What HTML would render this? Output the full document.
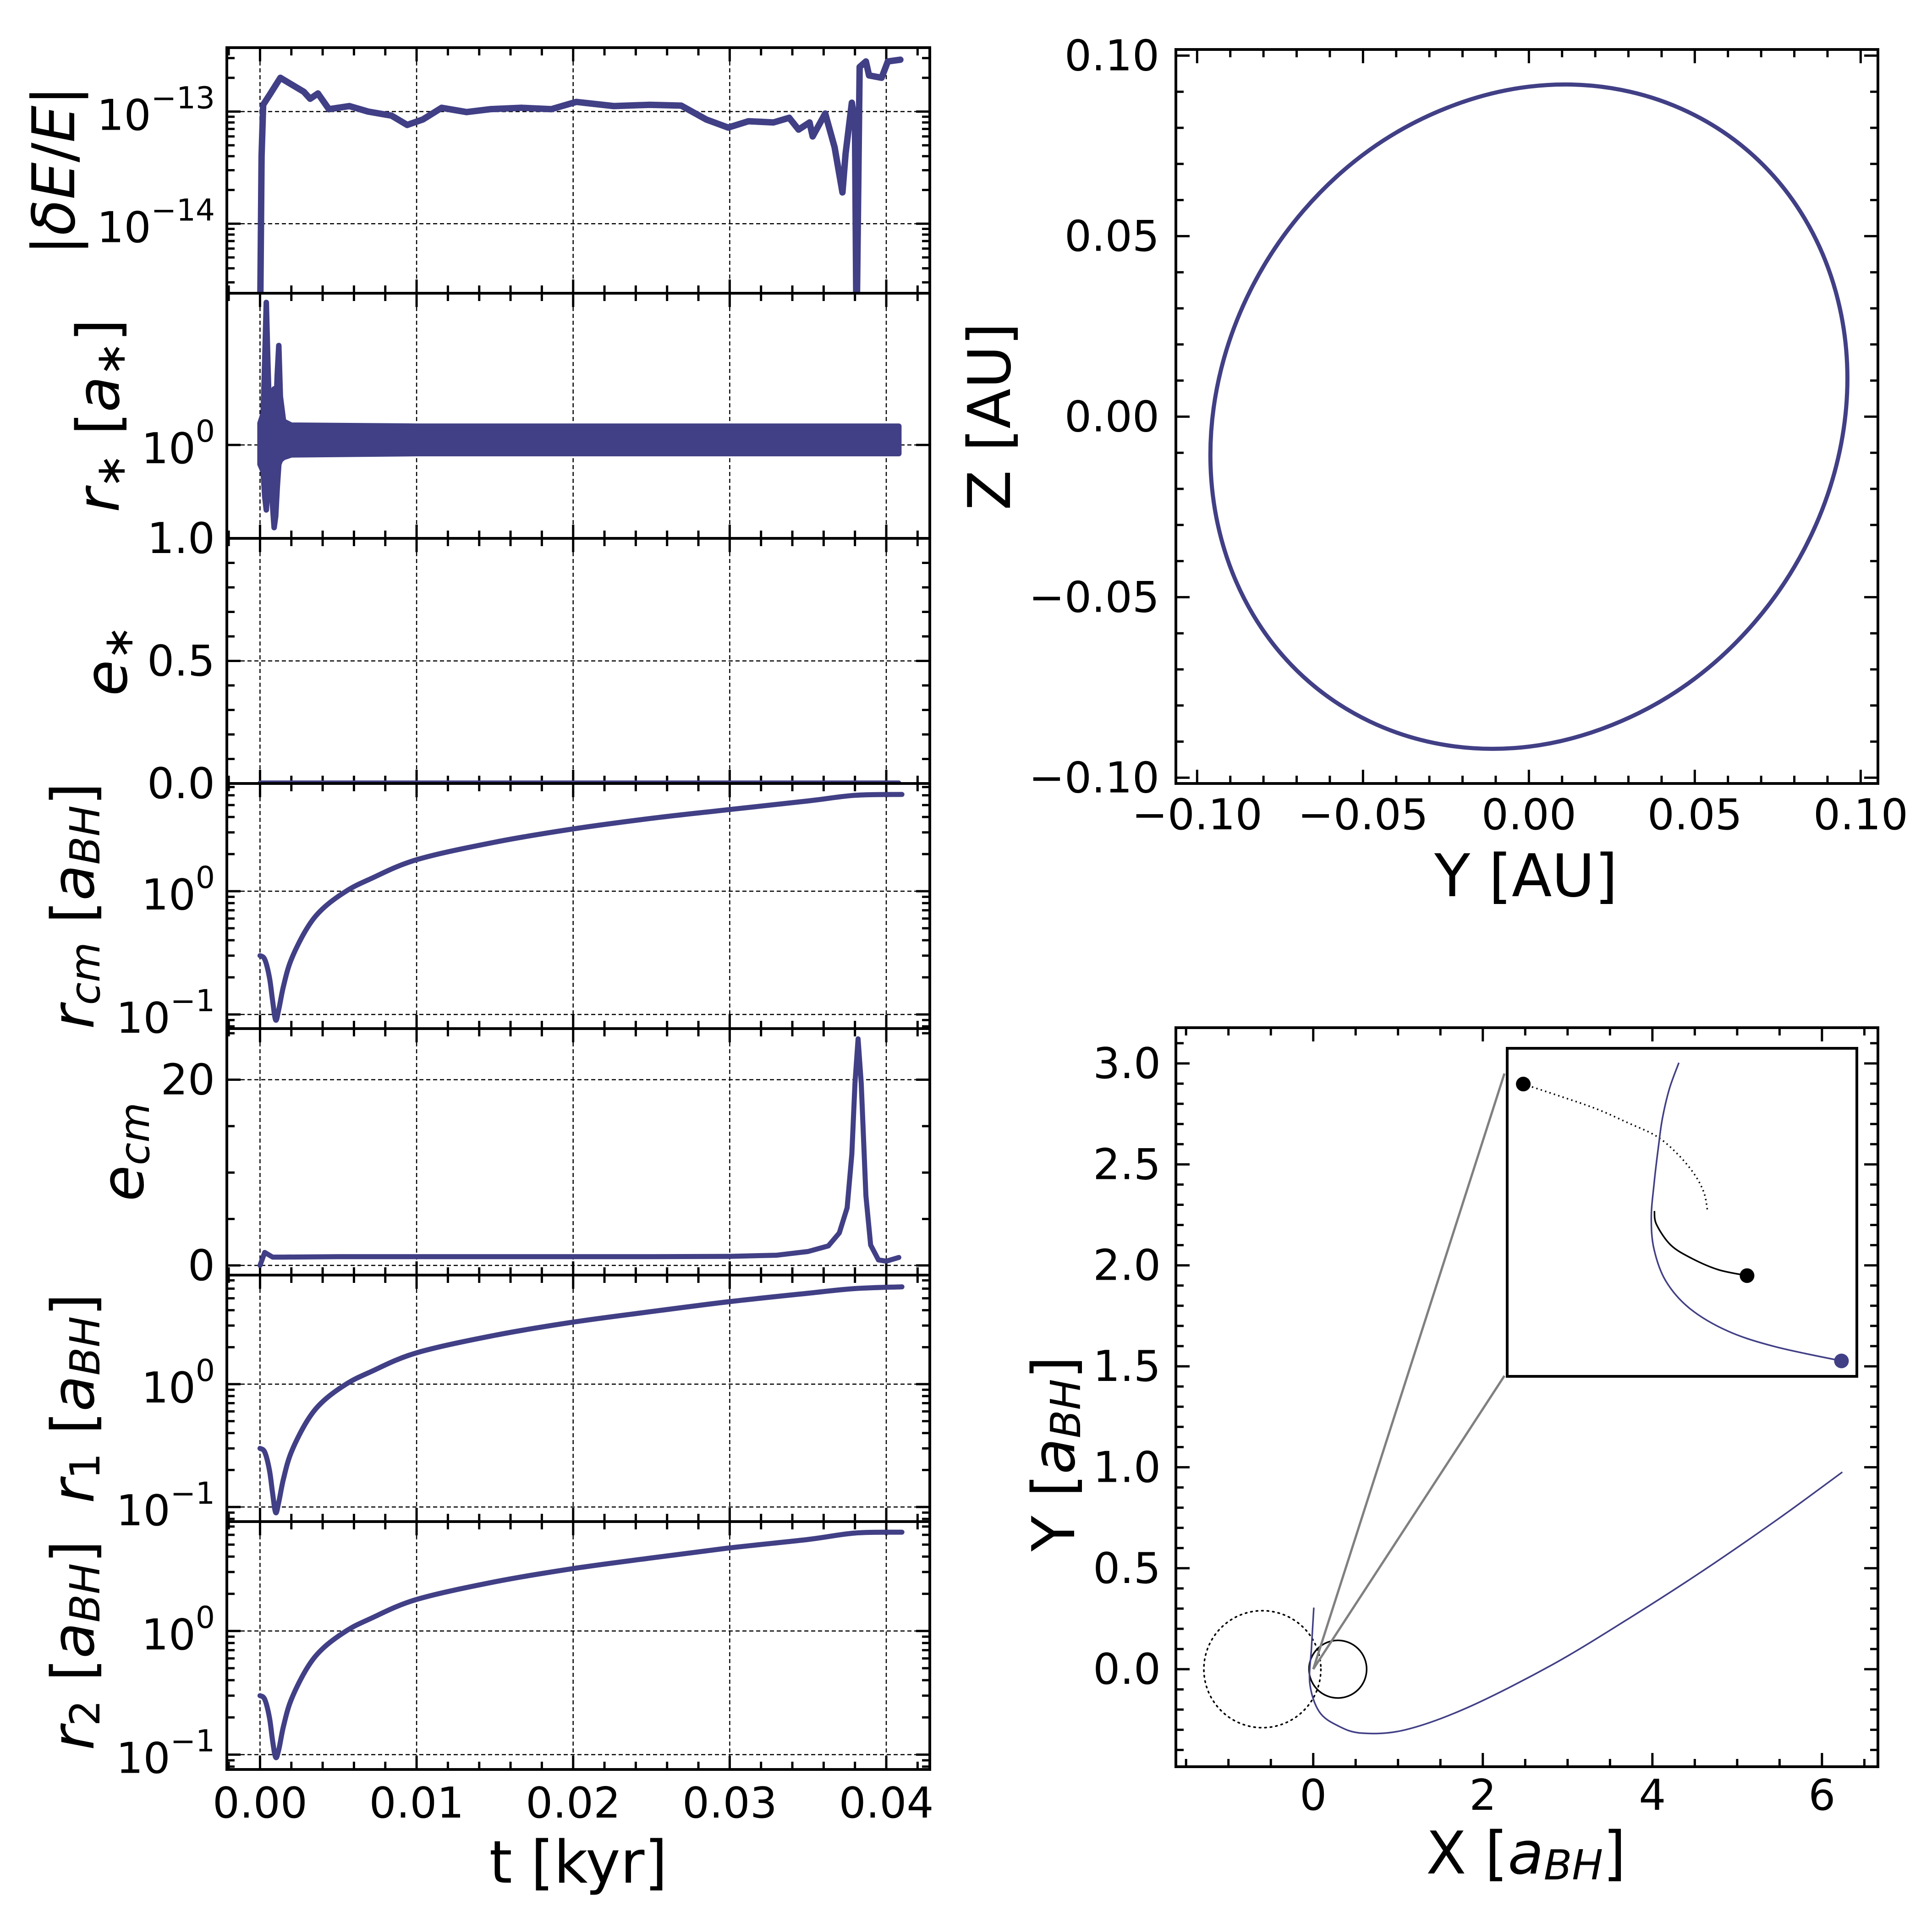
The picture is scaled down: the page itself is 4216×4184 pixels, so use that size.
<!DOCTYPE html>
<html><head><meta charset="utf-8"><style>
html,body{margin:0;padding:0;background:#fff}
svg{display:block;font-family:"DejaVu Sans","Liberation Sans",sans-serif}
</style></head><body>
<svg id="chart" xmlns="http://www.w3.org/2000/svg" width="4216" height="4184" viewBox="0 0 4216 4184">
<rect width="4216" height="4184" fill="#fff"/>
</svg>
<script>
// ---------------- data ----------------
const dE_t = [0,0.0001,0.0002,0.0006,0.0013,0.0028,0.0032,0.0037,0.0044,0.0057,0.0069,0.0084,0.0094,0.0104,0.0116,0.0132,0.0147,0.0167,0.0186,0.0202,0.0226,0.0249,0.0269,0.0285,0.0299,0.0312,0.0328,0.0338,0.0344,0.0351,0.0353,0.0361,0.0367,0.0372,0.0374,0.0378,0.0380,0.0381,0.0383,0.0387,0.0389,0.0397,0.0401,0.0409];
const dE_v = [1e-15,4e-14,1.15e-13,1.4e-13,2.0e-13,1.5e-13,1.3e-13,1.45e-13,1.05e-13,1.12e-13,1.0e-13,0.92e-13,0.76e-13,0.85e-13,1.08e-13,0.99e-13,1.05e-13,1.08e-13,1.05e-13,1.22e-13,1.12e-13,1.15e-13,1.13e-13,0.85e-13,0.72e-13,0.82e-13,0.80e-13,0.88e-13,0.69e-13,0.80e-13,0.60e-13,0.96e-13,0.48e-13,0.19e-13,0.42e-13,1.2e-13,0.8e-13,1e-15,2.5e-13,2.8e-13,2.1e-13,2.0e-13,2.8e-13,2.9e-13];
const rs_t = [0,0.0002,0.0003,0.0004,0.0005,0.0006,0.0007,0.0008,0.0009,0.0010,0.0011,0.0012,0.0013,0.0015,0.0020,0.0100,0.0300,0.0408];
const rs_up = [1.2,1.3,2.0,3.3,2.0,1.3,1.25,1.3,1.6,1.25,1.8,2.3,1.5,1.22,1.18,1.17,1.17,1.17];
const rs_lo = [0.85,0.8,0.65,0.58,0.7,0.8,0.75,0.6,0.5,0.55,0.7,0.85,0.88,0.9,0.92,0.93,0.93,0.93];
const es_t = [0,0.0408];
const es_v = [0.003,0.003];
const r_t = [0,0.0003,0.0006,0.0008,0.001,0.0012,0.0015,0.002,0.003,0.004,0.0055,0.007,0.01,0.015,0.02,0.025,0.03,0.035,0.038,0.041];
const rcm_v = [0.30,0.28,0.2,0.13,0.09,0.11,0.17,0.28,0.5,0.72,1.0,1.25,1.8,2.5,3.2,3.9,4.6,5.4,6.0,6.1];
const r1_v = [0.30,0.28,0.2,0.13,0.09,0.11,0.17,0.28,0.5,0.72,1.0,1.25,1.8,2.5,3.2,3.9,4.7,5.5,6.0,6.2];
const r2_v = [0.30,0.28,0.2,0.13,0.095,0.11,0.17,0.28,0.5,0.72,1.0,1.25,1.8,2.5,3.2,3.9,4.7,5.5,6.2,6.3];
const ecm_t = [0,0.0003,0.0008,0.0015,0.005,0.015,0.025,0.03,0.033,0.035,0.0363,0.037,0.0375,0.0378,0.038,0.0382,0.0384,0.0387,0.039,0.0395,0.04,0.0408];
const ecm_v = [0,1.4,0.9,0.9,0.95,0.95,0.95,0.98,1.1,1.5,2.1,3.5,6.2,12,19.6,24.4,19.6,7.5,2.2,0.6,0.46,0.86];
const orbY = [0.0960,0.0927,0.0831,0.0679,0.0480,0.0248,0.0000,-0.0248,-0.0480,-0.0679,-0.0831,-0.0927,-0.0960,-0.0927,-0.0831,-0.0679,-0.0480,-0.0248,0.0000,0.0248,0.0480,0.0679,0.0831,0.0927];
const orbZ = [0.0106,0.0339,0.0549,0.0721,0.0844,0.0910,0.0914,0.0855,0.0739,0.0571,0.0365,0.0134,-0.0106,-0.0339,-0.0549,-0.0721,-0.0844,-0.0910,-0.0914,-0.0855,-0.0739,-0.0571,-0.0365,-0.0134];
const trX = [0.007,-0.02,-0.04,0.07,0.29,0.58,1.09,1.82,2.81,3.68,4.57,5.47,6.24];
const trY = [0.305,0.11,-0.07,-0.21,-0.28,-0.317,-0.30,-0.19,0.02,0.24,0.48,0.74,0.976];
const circDot = [-0.60,0,0.69];
const circSol = [0.29,0,0.34];
const zoomFrom = [0,0];
const zoomTo1 = [2.255,2.95];
const zoomTo2 = [2.255,1.453];
const inDotU = [0.046,0.154,0.256,0.345,0.427,0.488,0.536,0.563,0.573];
const inDotV = [0.109,0.147,0.185,0.227,0.268,0.323,0.385,0.441,0.496];
const inSolU = [0.421,0.427,0.468,0.529,0.604,0.686];
const inSolV = [0.496,0.537,0.600,0.641,0.675,0.693];
const inBluU = [0.491,0.464,0.444,0.433,0.420,0.412,0.420,0.454,0.522,0.631,0.768,0.956];
const inBluV = [0.044,0.123,0.213,0.296,0.413,0.517,0.613,0.710,0.793,0.862,0.910,0.953];
const tTicks = [0,0.01,0.02,0.03,0.04];
const tTickLabels = ["0.00","0.01","0.02","0.03","0.04"];
const aTicks = [-0.1,-0.05,0,0.05,0.1];
const aTickLabels = ["\u22120.10","\u22120.05","0.00","0.05","0.10"];
const bxTicks = [0,2,4,6];
const bxTickLabels = ["0","2","4","6"];
const byTicks = [0,0.5,1,1.5,2,2.5,3];
const byTickLabels = ["0.0","0.5","1.0","1.5","2.0","2.5","3.0"];

// ---------------- helpers ----------------
const NS='http://www.w3.org/2000/svg';
const svg=document.getElementById('chart');
const C='#413f85';
function mk(tag,attrs,parent){const e=document.createElementNS(NS,tag);for(const k in attrs)e.setAttribute(k,attrs[k]);(parent||svg).appendChild(e);return e;}
function lin(d0,d1,p0,p1){return v=>p0+(v-d0)/(d1-d0)*(p1-p0);}
function logs(d0,d1,p0,p1){return v=>p0+(Math.log10(v)-d0)/(d1-d0)*(p1-p0);}
function smooth(pts){
  if(pts.length<3)return 'M'+pts.map(p=>p[0].toFixed(1)+','+p[1].toFixed(1)).join('L');
  let d='M'+pts[0][0].toFixed(1)+','+pts[0][1].toFixed(1);
  for(let i=0;i<pts.length-1;i++){
    const p0=pts[i-1]||pts[i],p1=pts[i],p2=pts[i+1],p3=pts[i+2]||p2;
    const c1=[p1[0]+(p2[0]-p0[0])/6,p1[1]+(p2[1]-p0[1])/6];
    const c2=[p2[0]-(p3[0]-p1[0])/6,p2[1]-(p3[1]-p1[1])/6];
    d+='C'+c1[0].toFixed(1)+','+c1[1].toFixed(1)+' '+c2[0].toFixed(1)+','+c2[1].toFixed(1)+' '+p2[0].toFixed(1)+','+p2[1].toFixed(1);
  }
  return d;
}
function closedSmooth(pts){
  const n=pts.length;
  let d='M'+pts[0][0].toFixed(1)+','+pts[0][1].toFixed(1);
  for(let i=0;i<n;i++){
    const p0=pts[(i-1+n)%n],p1=pts[i],p2=pts[(i+1)%n],p3=pts[(i+2)%n];
    const c1=[p1[0]+(p2[0]-p0[0])/6,p1[1]+(p2[1]-p0[1])/6];
    const c2=[p2[0]-(p3[0]-p1[0])/6,p2[1]-(p3[1]-p1[1])/6];
    d+='C'+c1[0].toFixed(1)+','+c1[1].toFixed(1)+' '+c2[0].toFixed(1)+','+c2[1].toFixed(1)+' '+p2[0].toFixed(1)+','+p2[1].toFixed(1);
  }
  return d+'Z';
}
function polyline(pts){return 'M'+pts.map(p=>p[0].toFixed(1)+','+p[1].toFixed(1)).join('L');}
let clipN=0;
function frame(x0,y0,x1,y1,name){
  const id='clip'+(clipN++);
  const cp=mk('clipPath',{id:id});
  mk('rect',{x:x0,y:y0,width:x1-x0,height:y1-y0},cp);
  const g=mk('g',{'clip-path':'url(#'+id+')'});
  
  
  return g;
}
function border(x0,y0,x1,y1,name){
  const r=mk('rect',{x:x0,y:y0,width:x1-x0,height:y1-y0,fill:'none',stroke:'#000','stroke-width':6});
  
  
}
function xTick(px,y0,y1,len,name){
  const p=mk('path',{d:`M${px},${y1}v${-len}M${px},${y0}v${len}`,stroke:'#000','stroke-width':5});
  
  
}
function yTick(py,x0,x1,len,name){
  const p=mk('path',{d:`M${x0},${py}h${len}M${x1},${py}h${-len}`,stroke:'#000','stroke-width':5});
  
  
}
function grid(d,name){
  const p=mk('path',{d:d,stroke:'#000','stroke-width':2.5,'stroke-dasharray':'9,6',fill:'none'});
  
  
}
function label(x,y,txt,anchor,name,size){
  const t=mk('text',{x:x,y:y,'font-size':size||93,'text-anchor':anchor,'dominant-baseline':'central',fill:'#000'});
  t.textContent=txt;
  
  
  return t;
}
function powLabel(x,y,exp,name){
  const t=mk('text',{x:x,y:y+8,'font-size':93,'text-anchor':'end','dominant-baseline':'central',fill:'#000'});
  
  
  const a=mk('tspan',{},t);a.textContent='10';
  const b=mk('tspan',{'font-size':66,dy:-38},t);b.textContent=exp;
  return t;
}
function mathLabel(cx,cy,parts,name,rot){
  const t=mk('text',{x:0,y:0,'font-size':128,'text-anchor':'middle','dominant-baseline':'central',fill:'#000',transform:`translate(${cx},${cy})`+(rot?' rotate(-90)':'')});
  
  
  let sub=false;
  parts.forEach(p=>{
    const a={};
    if(p[1])a['font-style']='italic';
    if(p[2]&&!sub){a.dy=26;a['font-size']=90;sub=true;}
    else if(!p[2]&&sub){a.dy=-26;sub=false;}
    else if(p[2])a['font-size']=90;
    const s=mk('tspan',a,t);s.textContent=p[0];
  });
  return t;
}

// ---------------- left column ----------------
const LX0=495,LX1=2029;
const X=lin(-0.00212,0.04278,LX0,LX1);
const bounds=[104,640,1175,1710,2245,2783,3321,3862];
const panels=[
 {name:'energy-error',log:true,d:[-14.62,-12.43],majors:[1e-14,1e-13],lab:['\u221214','\u221213'],minors:[]},
 {name:'r-star',log:true,d:[-0.34,0.552],majors:[1],lab:['0'],minors:[]},
 {name:'e-star',log:false,d:[0,1],majors:[0,0.5,1],lab:['0.0','0.5','1.0'],minors:[0.1,0.2,0.3,0.4,0.6,0.7,0.8,0.9]},
 {name:'r-cm',log:true,d:[-1.115,0.874],majors:[0.1,1],lab:['\u22121','0'],minors:[]},
 {name:'e-cm',log:false,d:[-1.04,25.5],majors:[0,20],lab:['0','20'],minors:[5,10,15,25]},
 {name:'r-1',log:true,d:[-1.119,0.888],majors:[0.1,1],lab:['\u22121','0'],minors:[]},
 {name:'r-2',log:true,d:[-1.12,0.885],majors:[0.1,1],lab:['\u22121','0'],minors:[]}
];
const scales=[];
panels.forEach((P,i)=>{
  const y0=bounds[i],y1=bounds[i+1];
  const Y=P.log?logs(P.d[0],P.d[1],y1,y0):lin(P.d[0],P.d[1],y1,y0);
  scales.push(Y);
  if(P.log&&P.name!=='r-star'){
    for(let e=Math.floor(P.d[0])-1;e<=Math.ceil(P.d[1]);e++){
      for(let k=2;k<=9;k++){const v=k*Math.pow(10,e);const lv=Math.log10(v);if(lv>P.d[0]&&lv<P.d[1])P.minors.push(v);}
    }
  }
  let gd='';
  tTicks.forEach(t=>{gd+=`M${X(t).toFixed(1)},${y0}V${y1}`;});
  P.majors.forEach(v=>{const py=Y(v);if(py>y0+3&&py<y1-3)gd+=`M${LX0},${py.toFixed(1)}H${LX1}`;});
  grid(gd,P.name+'-grid');
  tTicks.forEach(t=>xTick(X(t),y0,y1,30,P.name+'-x-major-tick'));
  for(let t=-0.002;t<=0.0425;t+=0.002){if(Math.abs(t*100-Math.round(t*100))>1e-6)xTick(X(t),y0,y1,17,P.name+'-x-minor-tick');}
  P.majors.forEach((v,j)=>{
    const py=Y(v);
    yTick(py,LX0,LX1,30,P.name+'-y-major-tick');
    if(P.log)powLabel(469,py,P.lab[j],P.name+'-y-tick-label');
    else label(469,py,P.lab[j],'end',P.name+'-y-tick-label');
  });
  P.minors.forEach(v=>yTick(Y(v),LX0,LX1,17,P.name+'-y-minor-tick'));
});
function seriesPath(g,pts,w,name,sm){
  const p=mk('path',{d:sm?smooth(pts):polyline(pts),fill:'none',stroke:C,'stroke-width':w,'stroke-linejoin':'round','stroke-linecap':'round'},g);
  
  
  return p;
}
{
  const g=frame(LX0,bounds[0],LX1,bounds[1],'energy-error');
  seriesPath(g,dE_t.map((t,i)=>[X(t),scales[0](dE_v[i])]),14,'energy-error-line',false);
}
{
  const g=frame(LX0,bounds[1],LX1,bounds[2],'r-star');
  const Y=scales[1];
  const up=rs_t.map((t,i)=>[X(t),Y(rs_up[i])]);
  const lo=rs_t.map((t,i)=>[X(t),Y(rs_lo[i])]).reverse();
  const p=mk('path',{d:polyline(up.concat(lo))+'Z',fill:C,stroke:C,'stroke-width':12,'stroke-linejoin':'round'},g);
  
  
}
{
  const g=frame(LX0,bounds[2],LX1,bounds[3],'e-star');
  seriesPath(g,es_t.map((t,i)=>[X(t),scales[2](es_v[i])]),10,'e-star-line',false);
}
[[3,rcm_v,'r-cm-line'],[5,r1_v,'r-1-line'],[6,r2_v,'r-2-line']].forEach(a=>{
  const g=frame(LX0,bounds[a[0]],LX1,bounds[a[0]+1],a[2]);
  seriesPath(g,r_t.map((t,i)=>[X(t),scales[a[0]](a[1][i])]),11,a[2],true);
});
{
  const g=frame(LX0,bounds[4],LX1,bounds[5],'e-cm');
  seriesPath(g,ecm_t.map((t,i)=>[X(t),scales[4](ecm_v[i])]),11,'e-cm-line',false);
}
for(let i=0;i<7;i++)border(LX0,bounds[i],LX1,bounds[i+1],panels[i].name);
tTicks.forEach((t,i)=>label(X(t),3935,tTickLabels[i],'middle','t-tick-label'));
mathLabel(1262,4065,[['t [kyr]',0,0]],'t-axis-title',false);
mathLabel(118,372,[['|',0,0],['\u03b4E',1,0],['/',0,0],['E',1,0],['|',0,0]],'energy-error-axis-title',true);
mathLabel(215,907,[['r',1,0],['\u2217',0,1],[' [',0,0],['a',1,0],['\u2217',0,1],[']',0,0]],'r-star-axis-title',true);
mathLabel(232,1442,[['e',1,0],['\u2217',0,1]],'e-star-axis-title',true);
mathLabel(160,1977,[['r',1,0],['cm',1,1],[' [',0,0],['a',1,0],['BH',1,1],[']',0,0]],'r-cm-axis-title',true);
mathLabel(268,2514,[['e',1,0],['cm',1,1]],'e-cm-axis-title',true);
mathLabel(160,3052,[['r',1,0],['1',0,1],[' [',0,0],['a',1,0],['BH',1,1],[']',0,0]],'r-1-axis-title',true);
mathLabel(160,3591,[['r',1,0],['2',0,1],[' [',0,0],['a',1,0],['BH',1,1],[']',0,0]],'r-2-axis-title',true);

// ---------------- top right ----------------
{
  const x0=2566,x1=4098,y0=108,y1=1710;
  const AX=lin(-0.1064,0.1052,x0,x1), AY=lin(-0.1016,0.1017,y1,y0);
  for(let i=-10;i<=10;i++){const v=i/100;if(i%5===0)continue;xTick(AX(v),y0,y1,17,'yz-x-minor-tick');yTick(AY(v),x0,x1,17,'yz-y-minor-tick');}
  aTicks.forEach((v,i)=>{
    xTick(AX(v),y0,y1,30,'yz-x-major-tick');yTick(AY(v),x0,x1,30,'yz-y-major-tick');
    label(AX(v),1778,aTickLabels[i],'middle','yz-x-tick-label');
    label(2530,AY(v),aTickLabels[i],'end','yz-y-tick-label');
  });
  const g=frame(x0,y0,x1,y1,'yz-orbit');
  const pts=orbY.map((v,i)=>[AX(v),AY(orbZ[i])]);
  const p=mk('path',{d:closedSmooth(pts),fill:'none',stroke:C,'stroke-width':9},g);
  
  
  border(x0,y0,x1,y1,'yz');
  mathLabel(3330,1912,[['Y [AU]',0,0]],'yz-x-axis-title',false);
  mathLabel(2160,909,[['Z [AU]',0,0]],'yz-y-axis-title',true);
}

// ---------------- bottom right ----------------
{
  const x0=2566,x1=4098,y0=2243,y1=3856;
  const BX=lin(-1.62,6.66,x0,x1), BY=lin(-0.483,3.177,y1,y0);
  for(let v=-1.5;v<=6.5;v+=0.5){if(Math.abs(v%2)<1e-6)continue;xTick(BX(v),y0,y1,17,'xy-x-minor-tick');}
  for(let i=-4;i<=31;i++){if(i%5===0)continue;yTick(BY(i/10),x0,x1,17,'xy-y-minor-tick');}
  bxTicks.forEach((v,i)=>{xTick(BX(v),y0,y1,30,'xy-x-major-tick');label(BX(v),3918,bxTickLabels[i],'middle','xy-x-tick-label');});
  byTicks.forEach((v,i)=>{yTick(BY(v),x0,x1,30,'xy-y-major-tick');label(2533,BY(v),byTickLabels[i],'end','xy-y-tick-label');});
  const g=frame(x0,y0,x1,y1,'xy-trajectory');
  const cd=mk('ellipse',{cx:BX(circDot[0]),cy:BY(circDot[1]),rx:BX(circDot[2])-BX(0),ry:BX(circDot[2])-BX(0),fill:'none',stroke:'#000','stroke-width':3.5,'stroke-dasharray':'3,9','stroke-linecap':'round'},g);
  
  
  const cs=mk('ellipse',{cx:BX(circSol[0]),cy:BY(circSol[1]),rx:BX(circSol[2])-BX(0),ry:BX(circSol[2])-BX(0),fill:'none',stroke:'#000','stroke-width':3.5},g);
  
  
  const tr=mk('path',{d:smooth(trX.map((v,i)=>[BX(v),BY(trY[i])])),fill:'none',stroke:C,'stroke-width':3.5},g);
  
  
  [zoomTo1,zoomTo2].forEach(z=>{
    const l=mk('line',{x1:BX(zoomFrom[0]),y1:BY(zoomFrom[1]),x2:BX(z[0]),y2:BY(z[1]),stroke:'#808080','stroke-width':5},g);
    
    
  });
  border(x0,y0,x1,y1,'xy');
  const ix0=3289,iy0=2288,ix1=4052,iy1=3004;
  const bg=mk('rect',{x:ix0,y:iy0,width:ix1-ix0,height:iy1-iy0,fill:'#fff'});
  
  
  const IU=lin(0,1,ix0,ix1), IV=lin(0,1,iy0,iy1);
  const a=mk('path',{d:smooth(inDotU.map((u,i)=>[IU(u),IV(inDotV[i])])),fill:'none',stroke:'#000','stroke-width':3.5,'stroke-dasharray':'3,7'});
  
  
  const b=mk('path',{d:smooth(inSolU.map((u,i)=>[IU(u),IV(inSolV[i])])),fill:'none',stroke:'#000','stroke-width':3.5});
  
  
  const c=mk('path',{d:smooth(inBluU.map((u,i)=>[IU(u),IV(inBluV[i])])),fill:'none',stroke:C,'stroke-width':3.5});
  
  
  const d1=mk('circle',{cx:IU(inDotU[0]),cy:IV(inDotV[0]),r:16,fill:'#000'});
  
  
  const d2=mk('circle',{cx:IU(inSolU[inSolU.length-1]),cy:IV(inSolV[inSolV.length-1]),r:16,fill:'#000'});
  
  
  const d3=mk('circle',{cx:IU(inBluU[inBluU.length-1]),cy:IV(inBluV[inBluV.length-1]),r:16,fill:C});
  
  
  const ib=mk('rect',{x:ix0,y:iy0,width:ix1-ix0,height:iy1-iy0,fill:'none',stroke:'#000','stroke-width':6});
  
  
  mathLabel(3330,4045,[['X [',0,0],['a',1,0],['BH',1,1],[']',0,0]],'xy-x-axis-title',false);
  mathLabel(2300,3173,[['Y [',0,0],['a',1,0],['BH',1,1],[']',0,0]],'xy-y-axis-title',true);
}
</script>
</body></html>
